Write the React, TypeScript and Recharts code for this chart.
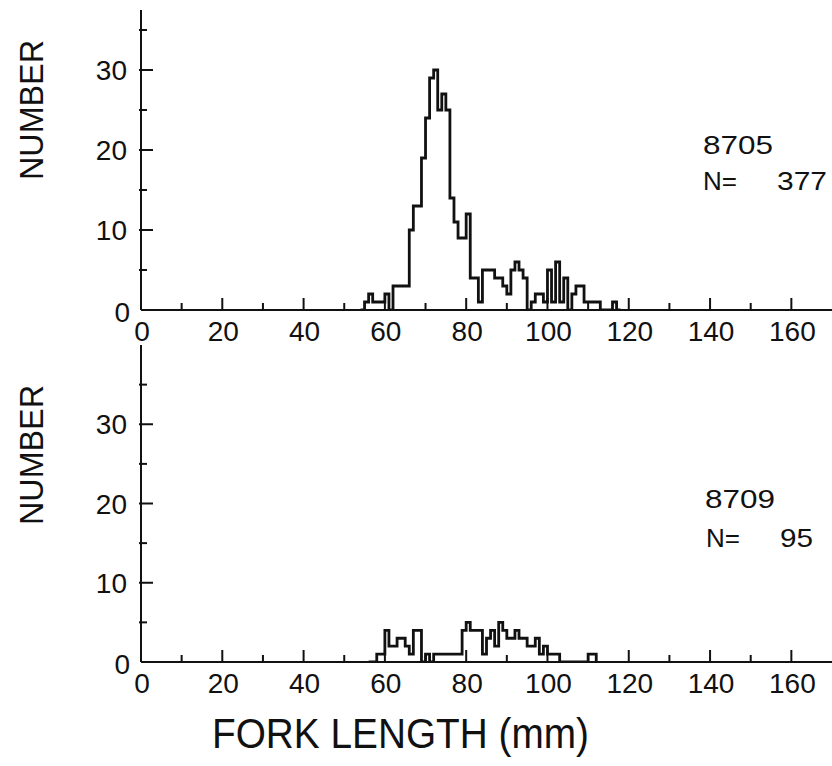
import { ComposedChart, Line, XAxis, YAxis } from "recharts";

// fork length bins (mm), one count per 1 mm bin starting at *_START
const TOP_START = 54;
const TOP_COUNTS = [
  0, 1, 2, 1, 1, 1, 2, 0, 3, 3, 3, 3, 10, 13, 13, 19, 24, 29, 30, 25, 27, 25,
  14, 11, 9, 9, 12, 4, 4, 1, 5, 5, 5, 4, 4, 3, 2, 5, 6, 5, 4, 0, 1, 2, 2, 1, 5,
  1, 6, 1, 4, 0, 2, 3, 3, 1, 1, 1, 1, 0, 0, 0, 1, 0, 0,
];

const BOTTOM_START = 56;
const BOTTOM_COUNTS = [
  0, 0, 1, 1, 4, 2, 2, 3, 3, 2, 1, 4, 4, 0, 1, 0, 1, 1, 1, 1, 1, 1, 1, 4, 5, 4,
  4, 4, 1, 3, 4, 2, 5, 4, 3, 3, 4, 3, 3, 2, 2, 3, 1, 2, 1, 1, 1, 0, 0, 0, 0, 0,
  0, 0, 1, 1, 0,
];

const X_TICKS = [0, 10, 20, 30, 40, 50, 60, 70, 80, 90, 100, 110, 120, 130, 140, 150, 160];
const Y_TICKS = [0, 5, 10, 15, 20, 25, 30, 35];

const PANELS = [
  { id: "8705", n: "377", start: TOP_START, counts: TOP_COUNTS },
  { id: "8709", n: "95", start: BOTTOM_START, counts: BOTTOM_COUNTS },
];

const INK = "#111";
const FONT = "'Liberation Sans', Arial, sans-serif";
const AXIS_X = 141;

const toRows = (start: number, counts: number[]) =>
  counts.map((c, i) => ({ len: start + i, count: c }));

function XTick(props: any) {
  const { x, y, payload } = props;
  const v = payload.value;
  const major = v % 20 === 0;
  return (
    <g>
      {v !== 0 && (
        <line x1={x} x2={x} y1={y} y2={y - (major ? 12 : 7)} stroke={INK} strokeWidth={2} />
      )}
      {major && (
        <text x={x + 1} y={y + 31} textAnchor="middle" fontSize={28} fontFamily={FONT} fill={INK}>
          {v}
        </text>
      )}
    </g>
  );
}

function YTick(props: any) {
  const { y, payload } = props;
  const v = payload.value;
  const major = v % 10 === 0;
  return (
    <g>
      {v !== 0 && (
        <line
          x1={AXIS_X - 2}
          x2={AXIS_X + (major ? 12 : 6)}
          y1={y}
          y2={y}
          stroke={INK}
          strokeWidth={2}
        />
      )}
      {major && (
        <text
          x={v === 0 ? AXIS_X - 11 : AXIS_X - 14}
          y={v === 0 ? y + 12 : y + 10}
          textAnchor="end"
          fontSize={28}
          fontFamily={FONT}
          fill={INK}
        >
          {v}
        </text>
      )}
    </g>
  );
}

function Panel({ start, counts, height, top, marginTop, yMax }: any) {
  return (
    <div style={{ position: "absolute", left: 0, top, width: 832, height }}>
      <ComposedChart
        width={832}
        height={height}
        data={toRows(start, counts)}
        margin={{ top: marginTop, right: 0, left: AXIS_X - 1, bottom: 39 }}
      >
        <XAxis
          dataKey="len"
          type="number"
          domain={[0, 170]}
          ticks={X_TICKS}
          interval={0}
          height={1}
          tickSize={0}
          tickMargin={0}
          tickLine={false}
          allowDataOverflow
          axisLine={{ stroke: INK, strokeWidth: 2 }}
          tick={(p: any) => <XTick {...p} />}
        />
        <YAxis
          type="number"
          domain={[0, yMax]}
          ticks={Y_TICKS}
          interval={0}
          width={1}
          tickSize={0}
          tickMargin={0}
          tickLine={false}
          allowDataOverflow
          axisLine={{ stroke: INK, strokeWidth: 2 }}
          tick={(p: any) => <YTick {...p} />}
        />
        <Line
          dataKey="count"
          type="stepAfter"
          stroke={INK}
          strokeWidth={2.8}
          strokeLinejoin="miter"
          dot={false}
          activeDot={false}
          isAnimationActive={false}
        />
      </ComposedChart>
    </div>
  );
}

export default function App() {
  const [top, bottom] = PANELS;
  return (
    <div style={{ position: "absolute", left: 0, top: 0, width: 832, height: 766, background: "#fff" }}>
      <Panel start={top.start} counts={top.counts} height={350} top={0} marginTop={10} yMax={37.5} />
      <Panel start={bottom.start} counts={bottom.counts} height={362} top={340} marginTop={5} yMax={40} />
      <svg
        width={832}
        height={766}
        style={{ position: "absolute", left: 0, top: 0, pointerEvents: "none" }}
        fontFamily={FONT}
        fill={INK}
      >
        <text transform="translate(43,110) rotate(-90)" textAnchor="middle" fontSize={34} textLength={140} lengthAdjust="spacingAndGlyphs">
          NUMBER
        </text>
        <text transform="translate(43,455) rotate(-90)" textAnchor="middle" fontSize={34} textLength={140} lengthAdjust="spacingAndGlyphs">
          NUMBER
        </text>

        <text x={703} y={154} fontSize={26} textLength={70} lengthAdjust="spacingAndGlyphs">{top.id}</text>
        <text x={703} y={190} fontSize={26} textLength={34} lengthAdjust="spacingAndGlyphs">N=</text>
        <text x={777} y={190} fontSize={26} textLength={50} lengthAdjust="spacingAndGlyphs">{top.n}</text>

        <text x={705} y={508} fontSize={26} textLength={70} lengthAdjust="spacingAndGlyphs">{bottom.id}</text>
        <text x={706} y={547} fontSize={26} textLength={34} lengthAdjust="spacingAndGlyphs">N=</text>
        <text x={780} y={547} fontSize={26} textLength={33} lengthAdjust="spacingAndGlyphs">{bottom.n}</text>

        <text x={212} y={748} fontSize={42} textLength={377} lengthAdjust="spacingAndGlyphs">
          FORK LENGTH (mm)
        </text>
      </svg>
    </div>
  );
}
